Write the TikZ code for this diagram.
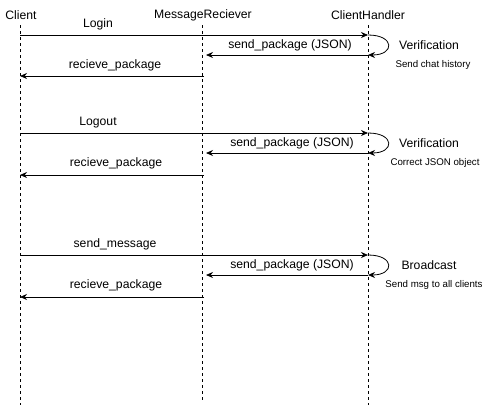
\documentclass[tikz,border=0pt]{standalone}
\usepackage{fontspec}
\setmainfont{Liberation Sans}
\usetikzlibrary{arrows.meta}
\begin{document}
\begin{tikzpicture}[x=1pt,y=-1pt,
  head/.style={font=\fontsize{12.2}{14}\selectfont, inner sep=0pt},
  lbl/.style={font=\fontsize{12.2}{14}\selectfont, inner sep=0pt},
  note/.style={font=\fontsize{9.7}{11}\selectfont, inner sep=0pt},
  life/.style={draw=black, dashed, dash pattern=on 3pt off 3pt, line width=0.7pt},
  msg/.style={draw=black, line width=0.8pt, -{Stealth[length=7pt,width=6pt]}},
  ret/.style={draw=black, line width=0.8pt, -{Stealth[length=7pt,width=6pt]}}]
\useasboundingbox (0,0) rectangle (490,410);
% heads
\node[head] (hc) at (21,15) {Client};
\node[head] (hm) at (203,15) {MessageReciever};
\node[head] (hh) at (368,15) {ClientHandler};
% lifelines
\coordinate (ct) at (20,25); \coordinate (cb) at (20,405);
\coordinate (mt) at (202,25); \coordinate (mb) at (202,400);
\coordinate (ht) at (368,25); \coordinate (hb) at (368,405);
\draw[life] (ct) -- (cb);
\draw[life] (mt) -- (mb);
\draw[life] (ht) -- (hb);
% row coordinates
\foreach \n/\a/\b/\c in {1/35/55/76, 2/133/153/175, 3/255/275/297}{
  \coordinate (c\n a) at (20,\a);
  \coordinate (h\n a) at (368,\a);
  \coordinate (h\n b) at (368,\b);
  \coordinate (m\n b) at (206,\b);
  \coordinate (m\n c) at (204,\c);
  \coordinate (c\n c) at (20,\c);
  \draw[msg] (c\n a) -- (h\n a);
  \draw[msg] (h\n a) .. controls (395,\a) and (395,\b) .. (h\n b);
  \draw[msg] (h\n b) -- (m\n b);
  \draw[ret] (m\n c) -- (c\n c);
}
% labels row 1
\node[lbl] (l1) at (98,24) {Login};
\node[lbl] (s1) at (290,45) {send\_package (JSON)};
\node[lbl] (r1) at (115,65) {recieve\_package};
\node[lbl] (v1) at (429,45) {Verification};
\node[note] (n1) at (433,65) {Send chat history};
% row 2
\node[lbl] (l2) at (98,123) {Logout};
\node[lbl] (s2) at (292,143) {send\_package (JSON)};
\node[lbl] (r2) at (116,163) {recieve\_package};
\node[lbl] (v2) at (429,143) {Verification};
\node[note] (n2) at (435,163) {Correct JSON object};
% row 3
\node[lbl] (l3) at (115,244) {send\_message};
\node[lbl] (s3) at (292,265) {send\_package (JSON)};
\node[lbl] (r3) at (116,285) {recieve\_package};
\node[lbl] (v3) at (429,265) {Broadcast};
\node[note] (n3) at (434,285) {Send msg to all clients};
\end{tikzpicture}
\end{document}
